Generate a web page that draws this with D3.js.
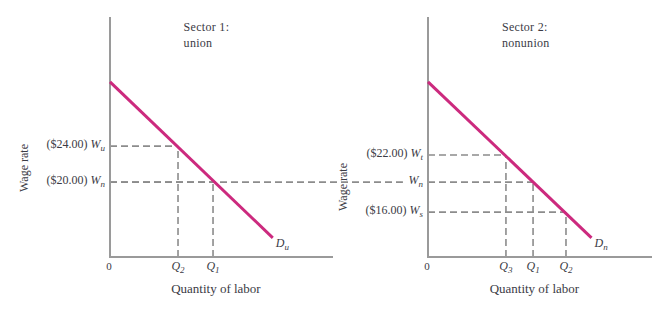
<!DOCTYPE html>
<html>
<head>
<meta charset="utf-8">
<script src="https://cdn.jsdelivr.net/npm/d3@7"></script>
<style>
  body { margin: 0; background: #fff; }
  text { font-family: "Liberation Serif", "DejaVu Serif", serif; fill: #3b3b45; }
</style>
</head>
<body>
<div id="chart"></div>
<script>
// values are in schematic plot units (0-10 on both axes)

// sector titles
const sectorTitles = [["Sector 1:", "union"], ["Sector 2:", "nonunion"]];
const demandSubs = ["u", "n"];

// demand curves: [x, y] start and end
const demandStart = [[0, 7.3], [0, 7.3]];
const demandEnd = [[7.3, 0.8], [7.3, 0.8]];

// sector 1 (union)
const unionWageLevels = [4.62, 3.12];
const unionWagePrices = ["($24.00)", "($20.00)"];
const unionWageSubs = ["u", "n"];
const unionQty = [3.05, 4.62];
const unionQtySubs = ["2", "1"];

// sector 2 (nonunion)
const nonunionWageLevels = [4.25, 3.12, 1.87];
const nonunionWagePrices = ["($22.00)", "", "($16.00)"];
const nonunionWageSubs = ["t", "n", "s"];
const nonunionQty = [3.48, 4.69, 6.16];
const nonunionQtySubs = ["3", "1", "2"];

// the W_n line from sector 1 runs into sector 2 up to here (sector 2 units)
const wnLinkEnd = -1.12;

const canvWidth = 667, canvHeight = 321;
const svg = d3.select("#chart").append("svg")
    .attr("width", canvWidth)
    .attr("height", canvHeight);

const axisColor = "#9a9a9a", dashColor = "#8c8c8c", demandColor = "#cc2a7e";

const yScale = d3.scaleLinear().domain([0, 10]).range([257, 17]);
const xLeft = d3.scaleLinear().domain([0, 10]).range([110, 333]);
const xRight = d3.scaleLinear().domain([0, 10]).range([428, 652]);

// helper: italic letter with italic subscript
function symbol(sel, letter, sub) {
  sel.append("tspan").attr("font-style", "italic").text(letter);
  sel.append("tspan").attr("font-style", "italic").attr("font-size", 9)
    .attr("dy", 3).text(sub);
}

function dashed(x1, y1, x2, y2) {
  svg.append("line")
    .attr("x1", x1).attr("y1", y1).attr("x2", x2).attr("y2", y2)
    .attr("stroke", dashColor)
    .attr("stroke-width", 1.6)
    .attr("stroke-dasharray", "7,4");
}

function drawPanel(i, x, levels, prices, subs, qty, qtySubs, qtyLevel) {
  // guide lines
  levels.forEach((w, k) => {
    const qi = qtyLevel[k];
    dashed(x(0), yScale(w), x(qty[qi]), yScale(w));
    dashed(x(qty[qi]), yScale(0), x(qty[qi]), yScale(w));
  });

  // axes
  svg.append("line")
    .attr("x1", x(0)).attr("y1", yScale(10))
    .attr("x2", x(0)).attr("y2", yScale(0) + 1)
    .attr("stroke", axisColor).attr("stroke-width", 2);
  svg.append("line")
    .attr("x1", x(0) - 1).attr("y1", yScale(0))
    .attr("x2", x(10)).attr("y2", yScale(0))
    .attr("stroke", axisColor).attr("stroke-width", 2);

  // demand curve
  svg.append("line")
    .attr("x1", x(demandStart[i][0])).attr("y1", yScale(demandStart[i][1]))
    .attr("x2", x(demandEnd[i][0])).attr("y2", yScale(demandEnd[i][1]))
    .attr("stroke", demandColor).attr("stroke-width", 3);

  const dl = svg.append("text")
    .attr("x", x(demandEnd[i][0]) + 3)
    .attr("y", yScale(demandEnd[i][1]) + 9)
    .attr("font-size", 12);
  symbol(dl, "D", demandSubs[i]);

  // titles
  sectorTitles[i].forEach((t, k) => {
    svg.append("text")
      .attr("x", x(3.3))
      .attr("y", 31 + k * 16)
      .attr("font-size", 12)
      .attr("letter-spacing", 0.3)
      .text(t);
  });

  // wage labels
  levels.forEach((w, k) => {
    if (prices[k] === "") return;
    const t = svg.append("text")
      .attr("x", x(0) - 5)
      .attr("y", yScale(w) + 2)
      .attr("text-anchor", "end")
      .attr("font-size", 12);
    t.append("tspan").text(prices[k] + " ");
    symbol(t, "W", subs[k]);
  });

  // quantity labels
  qty.forEach((q, k) => {
    const t = svg.append("text")
      .attr("x", x(q))
      .attr("y", yScale(0) + 13)
      .attr("text-anchor", "middle")
      .attr("font-size", 12);
    symbol(t, "Q", qtySubs[k]);
  });

  svg.append("text")
    .attr("x", x(0) - 1)
    .attr("y", yScale(0) + 13)
    .attr("text-anchor", "middle")
    .attr("font-size", 11)
    .text("0");

  svg.append("text")
    .attr("x", x(4.75))
    .attr("y", 293)
    .attr("text-anchor", "middle")
    .attr("font-size", 13)
    .text("Quantity of labor");
}

// link of the nonunion wage from sector 1 into sector 2
dashed(xLeft(0), yScale(unionWageLevels[1]), xRight(wnLinkEnd), yScale(unionWageLevels[1]));

drawPanel(0, xLeft, unionWageLevels, unionWagePrices, unionWageSubs,
  unionQty, unionQtySubs, [0, 1]);
drawPanel(1, xRight, nonunionWageLevels, nonunionWagePrices, nonunionWageSubs,
  nonunionQty, nonunionQtySubs, [0, 1, 2]);

// W_n label at the end of the link line
const wn = svg.append("text")
  .attr("x", xRight(0) - 5)
  .attr("y", yScale(unionWageLevels[1]) + 2)
  .attr("text-anchor", "end")
  .attr("font-size", 12);
symbol(wn, "W", "n");

// y axis titles
[[24, 168], [343, 187]].forEach(p => {
  svg.append("text")
    .attr("transform", "translate(" + p[0] + "," + p[1] + ") rotate(-90)")
    .attr("text-anchor", "middle")
    .attr("dy", "0.35em")
    .attr("font-size", 12)
    .text("Wage rate");
});
</script>
</body>
</html>
